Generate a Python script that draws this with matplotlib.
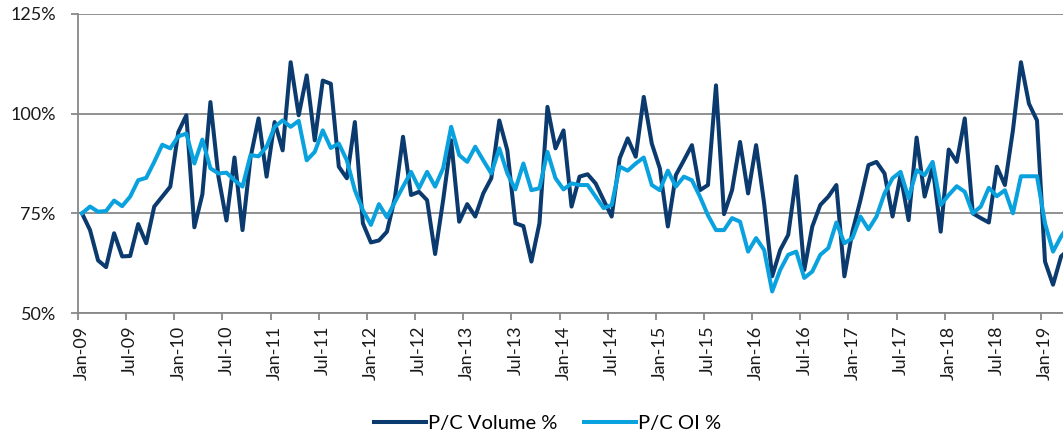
import matplotlib
matplotlib.use("Agg")
import matplotlib.pyplot as plt
import numpy as np

# monthly put/call ratios in %, Jan-09 .. Apr-19
PC_VOLUME = [
    75, 70.8, 63.2, 61.5, 70, 64.2, 64.3, 72.3, 67.5, 76.7, 79.2, 81.7,
    95.4, 99.6, 71.5, 79.8, 102.9, 84.2, 73.2, 89, 70.8, 89, 98.8, 84.2,
    97.9, 90.8, 112.9, 99.6, 109.6, 93.3, 108.3, 107.5, 86.7, 83.8, 97.9, 72.5,
    67.7, 68.2, 70.4, 79, 94.2, 79.6, 80.4, 78.3, 64.8, 78.3, 93.3, 72.9,
    77.3, 74.2, 80, 83.8, 98.3, 90.8, 72.5, 71.8, 62.9, 72.5, 101.7, 91.3,
    95.8, 76.7, 84.2, 84.8, 82.5, 78.3, 74.2, 88.8, 93.8, 89.2, 104.2, 92.5,
    86.3, 71.7, 84.6, 88.3, 92.1, 80.8, 82.1, 107.1, 74.8, 80.8, 92.9, 80,
    92.1, 77.5, 59.2, 65.8, 69.6, 84.3, 60.8, 71.7, 77.1, 79.2, 82.1, 59.2,
    70.4, 78.3, 87.1, 87.9, 85, 74.2, 84.6, 73.3, 94, 79.2, 86.7, 70.4,
    91, 87.9, 98.8, 75, 73.8, 72.7, 86.7, 82.1, 95.8, 112.9, 102.5, 98.3,
    62.9, 57.1, 64.2, 66,
]
PC_OI = [
    75, 76.7, 75.4, 75.6, 78.2, 76.8, 79.2, 83.3, 83.9, 87.9, 92.2, 91.3,
    94.3, 95, 87.5, 93.5, 86.3, 85, 85.2, 83.3, 81.7, 89.6, 89.3, 91.7,
    96.7, 98.3, 96.7, 98.2, 88.3, 90.4, 95.8, 91.4, 92.5, 88.3, 80.8, 75.8,
    72.1, 77.3, 74, 77.9, 81.7, 85.4, 81.3, 85.4, 81.7, 86.3, 96.7, 89.6,
    87.9, 91.7, 88.3, 85, 91.3, 85, 81, 87.5, 80.8, 81.3, 90.4, 83.8,
    81, 82.5, 82.1, 82.1, 79.2, 76.3, 77.1, 86.7, 85.7, 87.5, 89, 82.1,
    80.8, 85.7, 81.7, 84.2, 83.3, 79.2, 74.5, 70.8, 70.8, 73.8, 72.9, 65.4,
    68.8, 65.8, 55.4, 60.8, 64.6, 65.4, 58.8, 60.4, 64.6, 66.3, 72.7, 67.5,
    68.8, 74.2, 71, 74.2, 80, 83.8, 85.4, 78.8, 85.8, 84.6, 87.9, 77.1,
    79.6, 81.8, 80.4, 75, 76.7, 81.4, 79.3, 80.8, 75, 84.3, 84.3, 84.3,
    72.5, 65.4, 69.2, 72,
]
TICK_LABELS = [
    "Jan-09", "Jul-09", "Jan-10", "Jul-10", "Jan-11", "Jul-11", "Jan-12",
    "Jul-12", "Jan-13", "Jul-13", "Jan-14", "Jul-14", "Jan-15", "Jul-15",
    "Jan-16", "Jul-16", "Jan-17", "Jul-17", "Jan-18", "Jul-18", "Jan-19",
]
Y_TICKS = [50, 75, 100, 125]

DARK = "#0B3A6E"
LIGHT = "#0AA2DE"
GRID = "#888888"

plt.rcParams["font.family"] = ["Lato", "DejaVu Sans"]

W, H = 1063, 434
fig = plt.figure(figsize=(W / 100, H / 100), dpi=100)
ax = fig.add_axes([78 / W, 1 - 313 / H, (W - 78) / W, (313 - 14) / H])

x = np.arange(len(PC_VOLUME)) + 0.5
ax.plot(x, PC_VOLUME, color=DARK, lw=2.9, label="P/C Volume %",
        solid_joinstyle="round", zorder=3)
ax.plot(x, PC_OI, color=LIGHT, lw=2.9, label="P/C OI %",
        solid_joinstyle="round", zorder=4)

ax.set_xlim(0, (W - 78) / 8.025)
ax.set_ylim(50, 125)

ax.set_yticks(Y_TICKS)
ax.set_yticklabels([f"{v}%" for v in Y_TICKS], fontsize=13, color="#1a1a1a")
ax.yaxis.grid(True, color=GRID, lw=1.3)
ax.set_axisbelow(True)

major = np.arange(0, 6 * len(TICK_LABELS), 6)
ax.set_xticks(major)
ax.set_xticklabels([])
ax.set_xticks(major + 0.5, minor=True)
ax.set_xticklabels(TICK_LABELS, minor=True, rotation=90, fontsize=13,
                   color="#1a1a1a")
ax.tick_params(axis="x", which="major", length=5, width=1.3, color=GRID)
ax.tick_params(axis="x", which="minor", length=0, pad=9)
ax.tick_params(axis="y", length=5, width=1.3, color=GRID, pad=11)

for s in ("top", "right"):
    ax.spines[s].set_visible(False)
for s in ("left", "bottom"):
    ax.spines[s].set_color(GRID)
    ax.spines[s].set_linewidth(1.3)

fig.legend(loc="center", bbox_to_anchor=(0.515, 1 - 423 / H), ncol=2,
           frameon=False, fontsize=14.5, handlelength=2.55, handletextpad=0.1,
           columnspacing=1.35)

fig.savefig("out.png", dpi=100)
